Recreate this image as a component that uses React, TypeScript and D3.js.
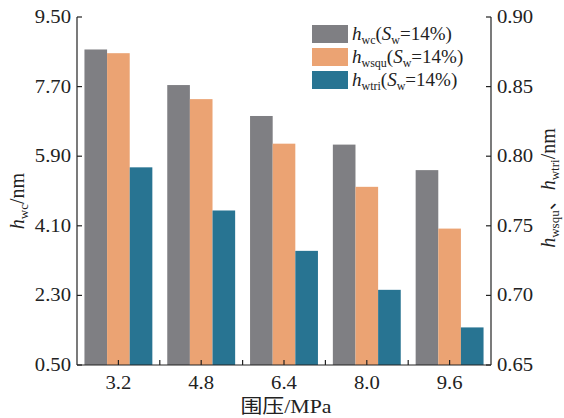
import React from "react";
import * as d3 from "d3";

const categories = ["3.2", "4.8", "6.4", "8.0", "9.6"];
const hwc = [8.66, 7.74, 6.94, 6.2, 5.54];
const hwsqu = [0.874, 0.841, 0.809, 0.778, 0.748];
const hwtri = [0.792, 0.761, 0.732, 0.704, 0.677];
const leftTicks = [0.5, 2.3, 4.1, 5.9, 7.7, 9.5];
const rightTicks = [0.65, 0.7, 0.75, 0.8, 0.85, 0.9];

const COLORS = ["#7f7f83", "#eba373", "#287492"];
const FONT = "'Liberation Serif', 'Times New Roman', 'Noto Sans CJK SC', serif";
const SX = 1.15;

const W = 564, H = 418;
const L = 77, R = 491, T = 17, B = 365;

function ST({ x, y, anchor = "middle", size = 18, children }: any) {
  return (
    <text
      transform={`translate(${x},${y}) scale(${SX},1)`}
      textAnchor={anchor}
      fontSize={size}
      fontFamily={FONT}
      fill="#222"
    >
      {children}
    </text>
  );
}

function LegendLabel({ sub }: { sub: string }) {
  return (
    <>
      <tspan fontStyle="italic">h</tspan>
      <tspan fontSize={12} dy={4}>{sub}</tspan>
      <tspan dy={-4}>(</tspan>
      <tspan fontStyle="italic">S</tspan>
      <tspan fontSize={12} dy={4}>w</tspan>
      <tspan dy={-4}>=14%)</tspan>
    </>
  );
}

export default function App() {
  const x = d3.scaleBand<string>().domain(categories).range([L, R]).paddingInner(0.18).paddingOuter(0.09);
  const xs = d3.scaleBand<number>().domain([0, 1, 2]).range([0, x.bandwidth()]);
  const yL = d3.scaleLinear().domain([0.5, 9.5]).range([B, T]);
  const yR = d3.scaleLinear().domain([0.65, 0.9]).range([B, T]);
  const step = (R - L) / categories.length;

  const series = [
    { vals: hwc, y: yL },
    { vals: hwsqu, y: yR },
    { vals: hwtri, y: yR },
  ];

  return (
    <svg width={W} height={H} style={{ position: "absolute", left: 0, top: 0, background: "#fff" }}>
      {series.map((s, si) =>
        s.vals.map((v, i) => (
          <rect
            key={`${si}-${i}`}
            x={(x(categories[i]) as number) + (xs(si) as number)}
            y={s.y(v)}
            width={xs.bandwidth()}
            height={B - s.y(v)}
            fill={COLORS[si]}
          />
        ))
      )}
      {/* axes */}
      <line x1={L} x2={L} y1={T} y2={B} stroke="#222" strokeWidth={1.2} />
      <line x1={R} x2={R} y1={T} y2={B} stroke="#222" strokeWidth={1.2} />
      <line x1={L} x2={R} y1={B} y2={B} stroke="#222" strokeWidth={1.2} />
      {leftTicks.map((t) => (
        <g key={"l" + t}>
          <line x1={L} x2={L + 5} y1={yL(t)} y2={yL(t)} stroke="#222" strokeWidth={1.2} />
          <ST x={L - 6} y={yL(t) + 6} anchor="end">{t.toFixed(2)}</ST>
        </g>
      ))}
      {rightTicks.map((t) => (
        <g key={"r" + t}>
          <line x1={R - 5} x2={R} y1={yR(t)} y2={yR(t)} stroke="#222" strokeWidth={1.2} />
          <ST x={R + 6} y={yR(t) + 6} anchor="start">{t.toFixed(2)}</ST>
        </g>
      ))}
      {categories.map((c) => {
        const cx = (x(c) as number) + x.bandwidth() / 2;
        return (
          <g key={"x" + c}>
            <line x1={cx} x2={cx} y1={B} y2={B - 5} stroke="#222" strokeWidth={1.2} />
            <ST x={cx} y={B + 24}>{c}</ST>
          </g>
        );
      })}
      {d3.range(1, categories.length).map((k) => (
        <line key={"m" + k} x1={L + k * step} x2={L + k * step} y1={B} y2={B - 5} stroke="#222" strokeWidth={1.2} />
      ))}
      {/* axis titles */}
      <ST x={286} y={413} size={19}>围压/MPa</ST>
      <g transform={`translate(24,201) rotate(-90)`}>
        <text textAnchor="middle" fontSize={20} fontFamily={FONT} fill="#222">
          <tspan fontStyle="italic">h</tspan>
          <tspan fontSize={13} dy={4}>wc</tspan>
          <tspan dy={-4}>/nm</tspan>
        </text>
      </g>
      <g transform={`translate(555,188) rotate(-90)`}>
        <text textAnchor="middle" fontSize={20} fontFamily={FONT} fill="#222">
          <tspan fontStyle="italic">h</tspan>
          <tspan fontSize={13} dy={4}>wsqu</tspan>
          <tspan dy={-4}>、</tspan>
          <tspan fontStyle="italic">h</tspan>
          <tspan fontSize={13} dy={4}>wtri</tspan>
          <tspan dy={-4}>/nm</tspan>
        </text>
      </g>
      {/* legend */}
      {["wc", "wsqu", "wtri"].map((s, i) => (
        <g key={"lg" + s}>
          <rect x={312} y={25 + i * 23} width={36} height={18} fill={COLORS[i]} />
          <text x={352} y={40 + i * 23} fontSize={19} fontFamily={FONT} fill="#222">
            <LegendLabel sub={s} />
          </text>
        </g>
      ))}
    </svg>
  );
}
